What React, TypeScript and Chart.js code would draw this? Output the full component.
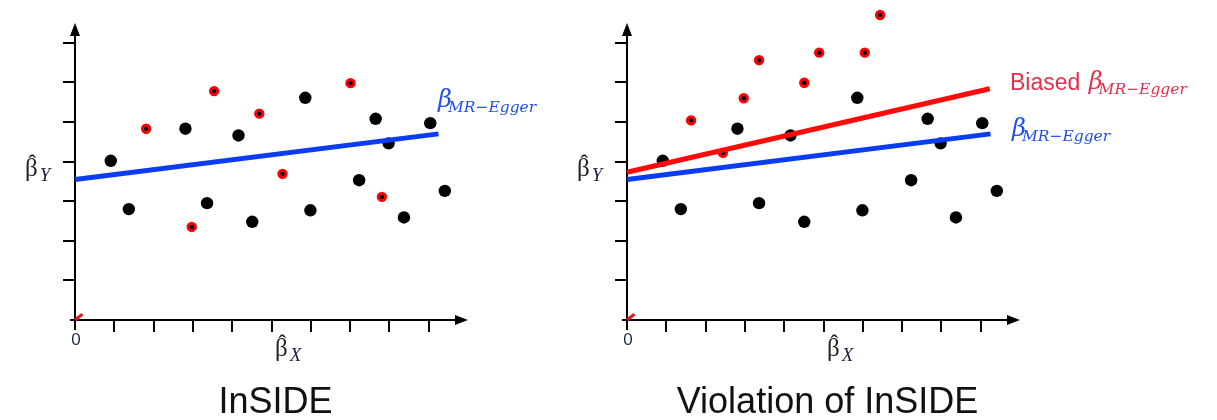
import React, { useEffect, useRef } from "react";
import { Chart, registerables } from "chart.js";
Chart.register(...registerables);

// ---- data ----
const xTicks = [1, 2, 3, 4, 5, 6, 7, 8, 9];
const yTicks = [1, 2, 3, 4, 5, 6, 7];
const panelTitles = ["InSIDE", "Violation of InSIDE"];

// valid instruments (black points), same in both panels
const validX = [0.91, 1.37, 2.81, 3.36, 4.16, 4.51, 5.86, 5.99, 7.23, 7.65, 7.98, 8.37, 9.04, 9.41];
const validY = [4.02, 2.8, 4.83, 2.95, 4.66, 2.48, 5.61, 2.77, 3.53, 5.08, 4.46, 2.59, 4.97, 3.26];

// invalid instruments (red rings), InSIDE satisfied
const insideInvalidX = [1.81, 2.97, 3.54, 4.69, 5.28, 7.01, 7.81];
const insideInvalidY = [4.83, 2.35, 5.78, 5.21, 3.69, 5.98, 3.11];

// invalid instruments, InSIDE violated
const violationInvalidX = [1.63, 2.44, 2.97, 3.36, 4.51, 4.89, 6.05, 6.44];
const violationInvalidY = [5.04, 4.22, 5.6, 6.56, 5.99, 6.75, 6.75, 7.7];

// regression lines
const eggerX = [0, 9.25];
const eggerY = [3.55, 4.7];
const biasedX = [0, 9.23];
const biasedY = [3.73, 5.84];

// little red mark at the origin
const originMarkX = [0, 0.19];
const originMarkY = [0, 0.15];

const eggerMain = "β";
const eggerSub = "MR−Egger";
const biasedWord = "Biased ";

const zip = (xs: number[], ys: number[]) => xs.map((x, i) => ({ x, y: ys[i] }));

const BLUE_LINE = "#0a3cf2";
const RED_LINE = "#ff0a0a";
const BLUE_TEXT = "#1f4fee";
const RED_TEXT = "#e3304c";

function drawSub(
  ctx: CanvasRenderingContext2D,
  x: number,
  base: number,
  main: string,
  sub: string,
  mainFont: string,
  subFont: string,
  color: string,
  subDx: number,
  subDy: number
) {
  ctx.fillStyle = color;
  ctx.textAlign = "left";
  ctx.textBaseline = "alphabetic";
  ctx.font = mainFont;
  ctx.fillText(main, x, base);
  const w = ctx.measureText(main).width;
  ctx.font = subFont;
  ctx.fillText(sub, x + w + subDx, base + subDy);
}

function drawHatBeta(ctx: CanvasRenderingContext2D, x: number, base: number, sub: string) {
  ctx.fillStyle = "#222";
  ctx.textAlign = "left";
  ctx.textBaseline = "alphabetic";
  ctx.font = "25px 'Liberation Serif'";
  ctx.fillText("β", x, base);
  const w = ctx.measureText("β").width;
  ctx.textAlign = "center";
  ctx.font = "24px 'Liberation Serif'";
  ctx.fillText("ˆ", x + w / 2 + 1, base - 5);
  ctx.textAlign = "left";
  ctx.fillStyle = "#1a2040";
  ctx.font = "italic 19px 'Liberation Serif'";
  ctx.fillText(sub, x + w + 2, base + 5);
}

function makePlugin(variant: number) {
  return {
    id: "panelDecor" + variant,
    beforeDatasetsDraw(chart: any) {
      const { ctx } = chart;
      const xs = chart.scales.x;
      const ys = chart.scales.y;
      const x0 = xs.getPixelForValue(0);
      const y0 = ys.getPixelForValue(0);
      const xEnd = xs.getPixelForValue(10);
      const yTop = ys.getPixelForValue(7.5);
      ctx.save();
      ctx.strokeStyle = "#000";
      ctx.fillStyle = "#000";
      ctx.lineWidth = 2;
      ctx.beginPath();
      ctx.moveTo(x0 - 5, y0);
      ctx.lineTo(xEnd - 8, y0);
      ctx.stroke();
      ctx.beginPath();
      ctx.moveTo(x0, y0 + 10);
      ctx.lineTo(x0, yTop + 8);
      ctx.stroke();
      ctx.beginPath();
      ctx.moveTo(xEnd, y0);
      ctx.lineTo(xEnd - 13, y0 - 5);
      ctx.lineTo(xEnd - 13, y0 + 5);
      ctx.closePath();
      ctx.fill();
      ctx.beginPath();
      ctx.moveTo(x0, yTop);
      ctx.lineTo(x0 - 5, yTop + 13);
      ctx.lineTo(x0 + 5, yTop + 13);
      ctx.closePath();
      ctx.fill();
      for (const t of xTicks) {
        const px = Math.round(xs.getPixelForValue(t));
        ctx.beginPath();
        ctx.moveTo(px, y0);
        ctx.lineTo(px, y0 + 12);
        ctx.stroke();
      }
      for (const t of yTicks) {
        const py = Math.round(ys.getPixelForValue(t));
        ctx.beginPath();
        ctx.moveTo(x0 - 12, py);
        ctx.lineTo(x0, py);
        ctx.stroke();
      }
      ctx.restore();
    },
    afterDraw(chart: any) {
      const { ctx } = chart;
      const xs = chart.scales.x;
      const ys = chart.scales.y;
      const x0 = xs.getPixelForValue(0);
      const y0 = ys.getPixelForValue(0);
      const xMid = (x0 + xs.getPixelForValue(10)) / 2;
      ctx.save();
      // origin label
      ctx.fillStyle = "#1d2b4a";
      ctx.font = "17px 'Liberation Sans'";
      ctx.textAlign = "center";
      ctx.textBaseline = "alphabetic";
      ctx.fillText("0", x0 + 1, y0 + 25);
      // axis labels
      drawHatBeta(ctx, x0 + 200, y0 + 36, "X");
      drawHatBeta(ctx, x0 - 50, y0 - 144, "Y");
      // title
      ctx.fillStyle = "#111";
      ctx.font = "36px 'Liberation Sans'";
      ctx.textAlign = "center";
      ctx.fillText(panelTitles[variant], xMid + 4, y0 + 93);
      // line labels
      const mainFont = "italic 24px 'DejaVu Serif'";
      const subFont = "italic 15.5px 'DejaVu Serif'";
      if (variant === 0) {
        drawSub(ctx, x0 + 363, y0 - 213, eggerMain, eggerSub, mainFont, subFont, BLUE_TEXT, -4, 5);
      } else {
        drawSub(ctx, x0 + 385, y0 - 184, eggerMain, eggerSub, mainFont, subFont, BLUE_TEXT, -4, 5);
        ctx.font = "23px 'Liberation Sans'";
        ctx.fillStyle = RED_TEXT;
        ctx.textAlign = "left";
        ctx.fillText(biasedWord, x0 + 383, y0 - 230);
        const bw = ctx.measureText(biasedWord).width;
        drawSub(ctx, x0 + 385 + bw, y0 - 231, eggerMain, eggerSub, mainFont, subFont, RED_TEXT, -4, 5);
      }
      ctx.restore();
    },
  };
}

function buildDatasets(variant: number) {
  const invX = variant === 0 ? insideInvalidX : violationInvalidX;
  const invY = variant === 0 ? insideInvalidY : violationInvalidY;
  const ds: any[] = [
    {
      type: "line",
      data: zip(eggerX, eggerY),
      borderColor: BLUE_LINE,
      borderWidth: 5,
      pointRadius: 0,
      showLine: true,
      order: 0,
      clip: false,
      borderCapStyle: "butt",
    },
    {
      type: "line",
      data: zip(originMarkX, originMarkY),
      borderColor: "#ee1111",
      borderWidth: 3,
      pointRadius: 0,
      showLine: true,
      order: 0,
      clip: false,
    },
    {
      type: "scatter",
      data: zip(validX, validY),
      backgroundColor: "#000",
      borderColor: "#000",
      borderWidth: 0,
      pointRadius: 6.2,
      order: 3,
      clip: false,
    },
    {
      type: "scatter",
      data: zip(invX, invY),
      backgroundColor: "#000",
      borderColor: "#ff0000",
      borderWidth: 3,
      pointRadius: 3.7,
      order: 2,
      clip: false,
    },
  ];
  if (variant === 1) {
    ds.unshift({
      type: "line",
      data: zip(biasedX, biasedY),
      borderColor: RED_LINE,
      borderWidth: 5,
      pointRadius: 0,
      showLine: true,
      order: 0,
      clip: false,
      borderCapStyle: "butt",
    });
  }
  return ds;
}

function Panel({ variant, left, width }: { variant: number; left: number; width: number }) {
  const ref = useRef<HTMLCanvasElement | null>(null);
  useEffect(() => {
    if (!ref.current) return;
    const chart = new Chart(ref.current, {
      type: "scatter",
      data: { datasets: buildDatasets(variant) },
      options: {
        responsive: false,
        animation: false,
        devicePixelRatio: 1,
        events: [],
        layout: {
          autoPadding: false,
          padding: { left: 75, right: width - 75 - 393, top: 0, bottom: 100 },
        },
        scales: {
          x: { type: "linear", min: 0, max: 10, display: false },
          y: { type: "linear", min: 0, max: 8.08, display: false },
        },
        plugins: {
          legend: { display: false },
          tooltip: { enabled: false },
          title: { display: false },
        },
      } as any,
      plugins: [makePlugin(variant)],
    } as any);
    return () => chart.destroy();
  }, [variant, width]);
  return (
    <canvas
      ref={ref}
      width={width}
      height={420}
      style={{ position: "absolute", left, top: 0, width, height: 420 }}
    />
  );
}

export default function App() {
  return (
    <div
      style={{
        position: "absolute",
        left: 0,
        top: 0,
        width: 1217,
        height: 420,
        background: "#fff",
        overflow: "hidden",
      }}
    >
      <Panel variant={0} left={0} width={552} />
      <Panel variant={1} left={552} width={665} />
    </div>
  );
}
